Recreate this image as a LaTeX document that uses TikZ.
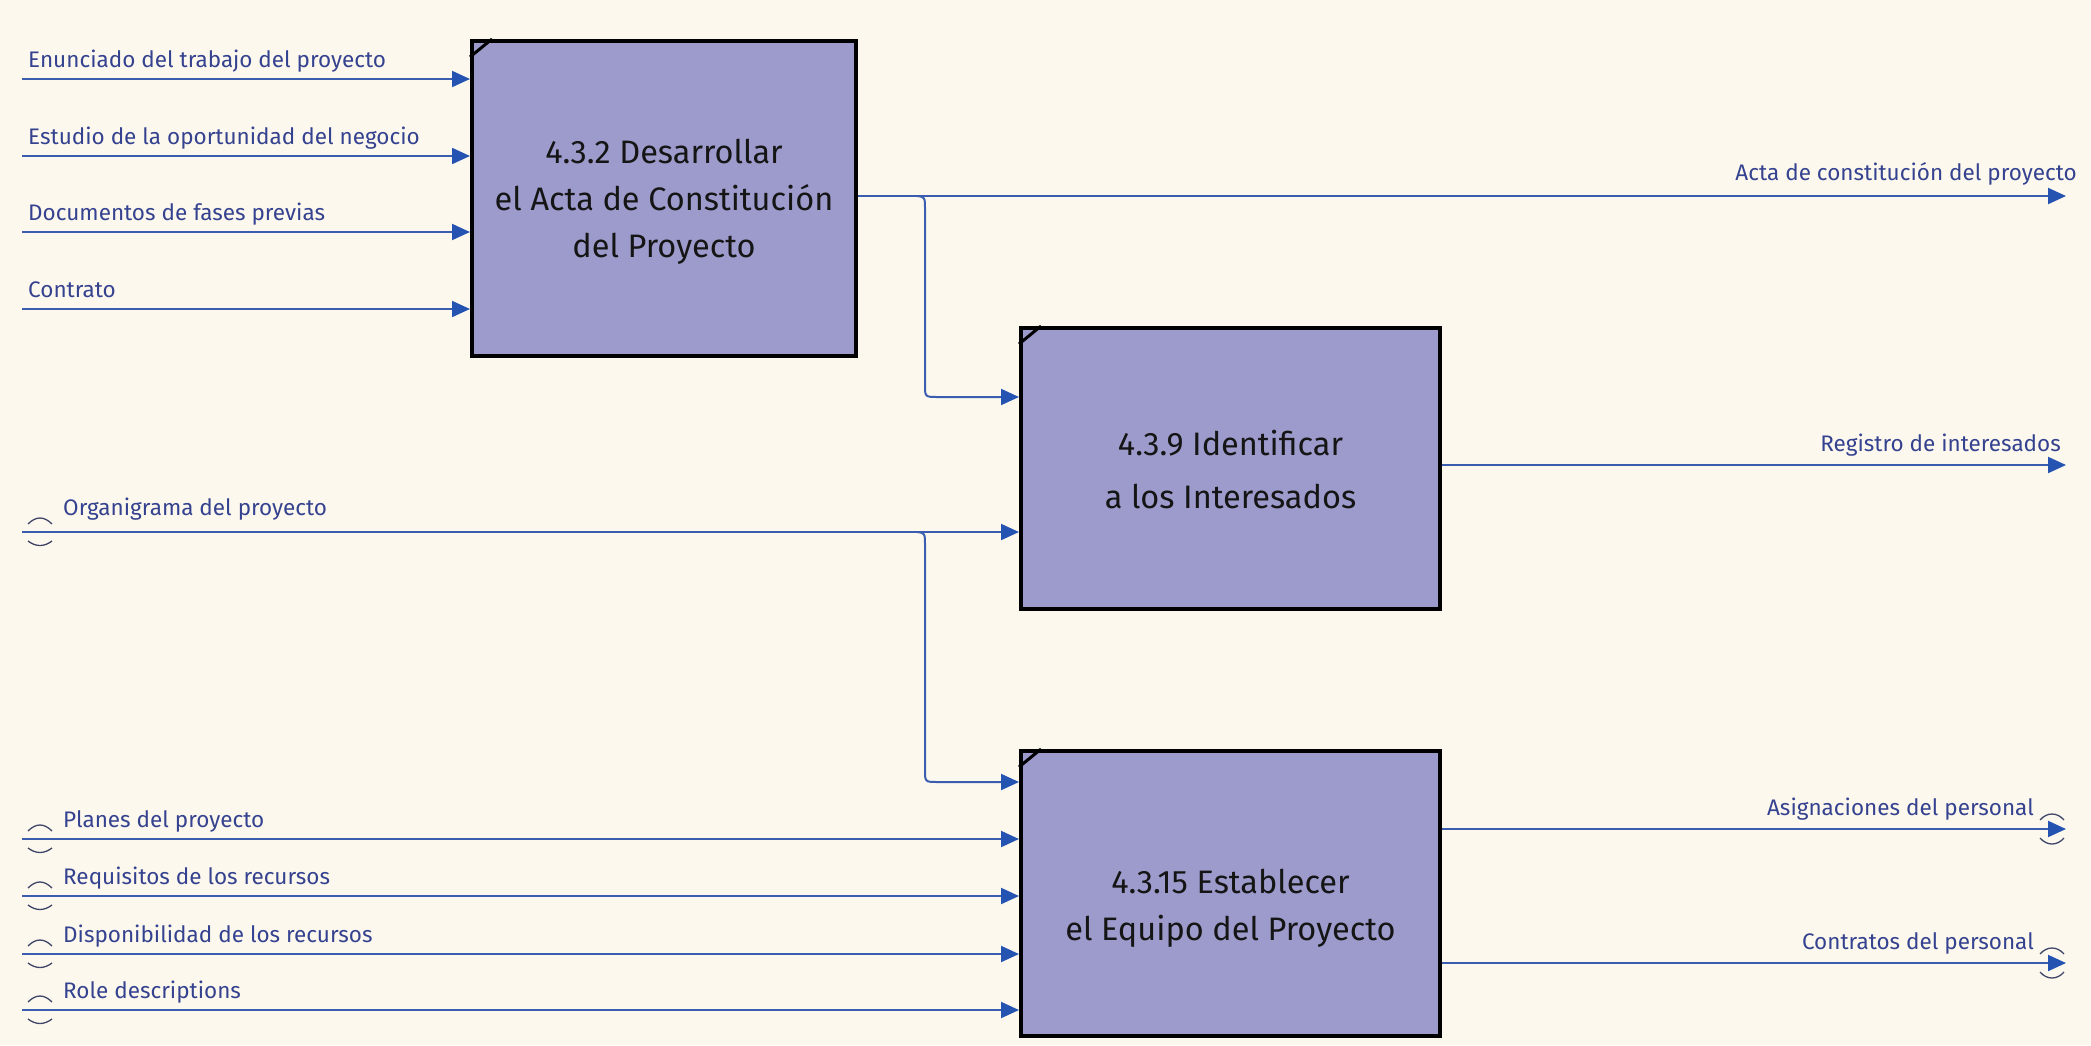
\documentclass[tikz,border=0pt]{standalone}
\usepackage{fontspec}
\setmainfont{Fira Sans}
\usetikzlibrary{arrows.meta}
\definecolor{paper}{HTML}{FDF8EE}
\definecolor{boxfill}{HTML}{9C9BCC}
\definecolor{flowblue}{HTML}{3A5DB0}
\definecolor{tipblue}{HTML}{2453B2}
\definecolor{lblblue}{HTML}{34428F}
\definecolor{tunnel}{HTML}{3E4768}
\definecolor{boxtext}{HTML}{151515}
\begin{document}
\begin{tikzpicture}[x=1pt,y=-1pt,
  proc/.style={draw=black, line width=4pt, fill=boxfill, inner sep=0pt},
  proctext/.style={text=boxtext, align=center,
    font=\fontsize{32.5}{47}\selectfont, inner sep=0pt},
  flow/.style={draw=flowblue, line width=2pt,
    -{Triangle[length=18pt,width=16pt,color=tipblue]}},
  lbl/.style={text=lblblue, font=\fontsize{22.5}{26}\selectfont, inner sep=0pt},
  tun/.style={draw=tunnel, line width=1.3pt},
  corner/.style={draw=black, line width=3pt}]

% page
\fill[paper] (0,0) rectangle (2091,1045);
\useasboundingbox (0,0) rectangle (2091,1045);

% activity boxes
\node[proc, minimum width=384pt, minimum height=315pt] (b1) at (664,198.5) {};
\node[proctext] (b1t) at (664,202)
  {4.3.2 Desarrollar\\el Acta de Constitución\\del Proyecto};
\node[proc, minimum width=419pt, minimum height=281pt] (b2) at (1230.5,468.5) {};
\node[proctext] (b2t) at (1230.5,470)
  {4.3.9 Identificar\\[6pt]a los Interesados};
\node[proc, minimum width=419pt, minimum height=285pt] (b3) at (1230.5,893.5) {};
\node[proctext] (b3t) at (1230.5,908)
  {4.3.15 Establecer\\el Equipo del Proyecto};

% corner ticks
\foreach \b in {b1,b2,b3}
  \draw[corner] ([yshift=-18pt]\b.north west) -- ([xshift=22pt]\b.north west);

% inputs of 4.3.2
\foreach \y/\n/\t in {79/i1/Enunciado del trabajo del proyecto,
                      156/i2/Estudio de la oportunidad del negocio,
                      232/i3/Documentos de fases previas,
                      309/i4/Contrato}{
  \coordinate (\n) at (22,\y);
  \draw[flow] (\n) -- (b1.west |- \n);
  \node[lbl, anchor=base west] (\n l) at (28,\y-12) {\t};
}

% output of 4.3.2 and branch to 4.3.9
\coordinate (o1) at (2066,196);
\draw[flow] (b1.east |- o1) -- (o1);
\node[lbl, anchor=base east] (o1l) at (2077,180) {Acta de constitución del proyecto};
\coordinate (j1) at (917,196);
\coordinate (e2) at (b2.west |- 0,397);
\draw[flow] (j1) .. controls (925,197) .. (925,210) -- (925,385)
  .. controls (925,397) .. (938,397) -- (e2);

% tunnelled input to 4.3.9 and branch to 4.3.15
\coordinate (i5) at (22,532);
\draw[flow] (i5) -- (b2.west |- i5);
\node[lbl, anchor=base west] (i5l) at (63,515) {Organigrama del proyecto};
\coordinate (j2) at (917,532);
\coordinate (e3) at (b3.west |- 0,782);
\draw[flow] (j2) .. controls (925,533) .. (925,546) -- (925,770)
  .. controls (925,782) .. (938,782) -- (e3);

% output of 4.3.9
\coordinate (o2) at (2066,465);
\draw[flow] (b2.east |- o2) -- (o2);
\node[lbl, anchor=base east] (o2l) at (2061,451) {Registro de interesados};

% tunnelled inputs of 4.3.15
\foreach \y/\n/\t in {839/i6/Planes del proyecto,
                      896/i7/Requisitos de los recursos,
                      954/i8/Disponibilidad de los recursos,
                      1010/i9/Role descriptions}{
  \coordinate (\n) at (22,\y);
  \draw[flow] (\n) -- (b3.west |- \n);
  \node[lbl, anchor=base west] (\n l) at (63,\y-12) {\t};
}

% tunnel marks on the left ends
\foreach \y in {532,839,896,954,1010}{
  \draw[tun] (28,\y-8) .. controls (36,\y-16) and (44,\y-16) .. (52,\y-8);
  \draw[tun] (28,\y+9) .. controls (36,\y+15) and (44,\y+15) .. (52,\y+9);
}

% outputs of 4.3.15
\coordinate (o3) at (2066,829);
\coordinate (o4) at (2066,963);
\draw[flow] (b3.east |- o3) -- (o3);
\draw[flow] (b3.east |- o4) -- (o4);
\node[lbl, anchor=base east] (o3l) at (2034,815) {Asignaciones del personal};
\node[lbl, anchor=base east] (o4l) at (2034,949) {Contratos del personal};

% tunnel marks on the right ends
\foreach \y in {829,963}{
  \draw[tun] (2040,\y-9) .. controls (2047,\y-17) and (2057,\y-17) .. (2064,\y-9);
  \draw[tun] (2040,\y+9) .. controls (2047,\y+17) and (2057,\y+17) .. (2064,\y+9);
}
\end{tikzpicture}
\end{document}
